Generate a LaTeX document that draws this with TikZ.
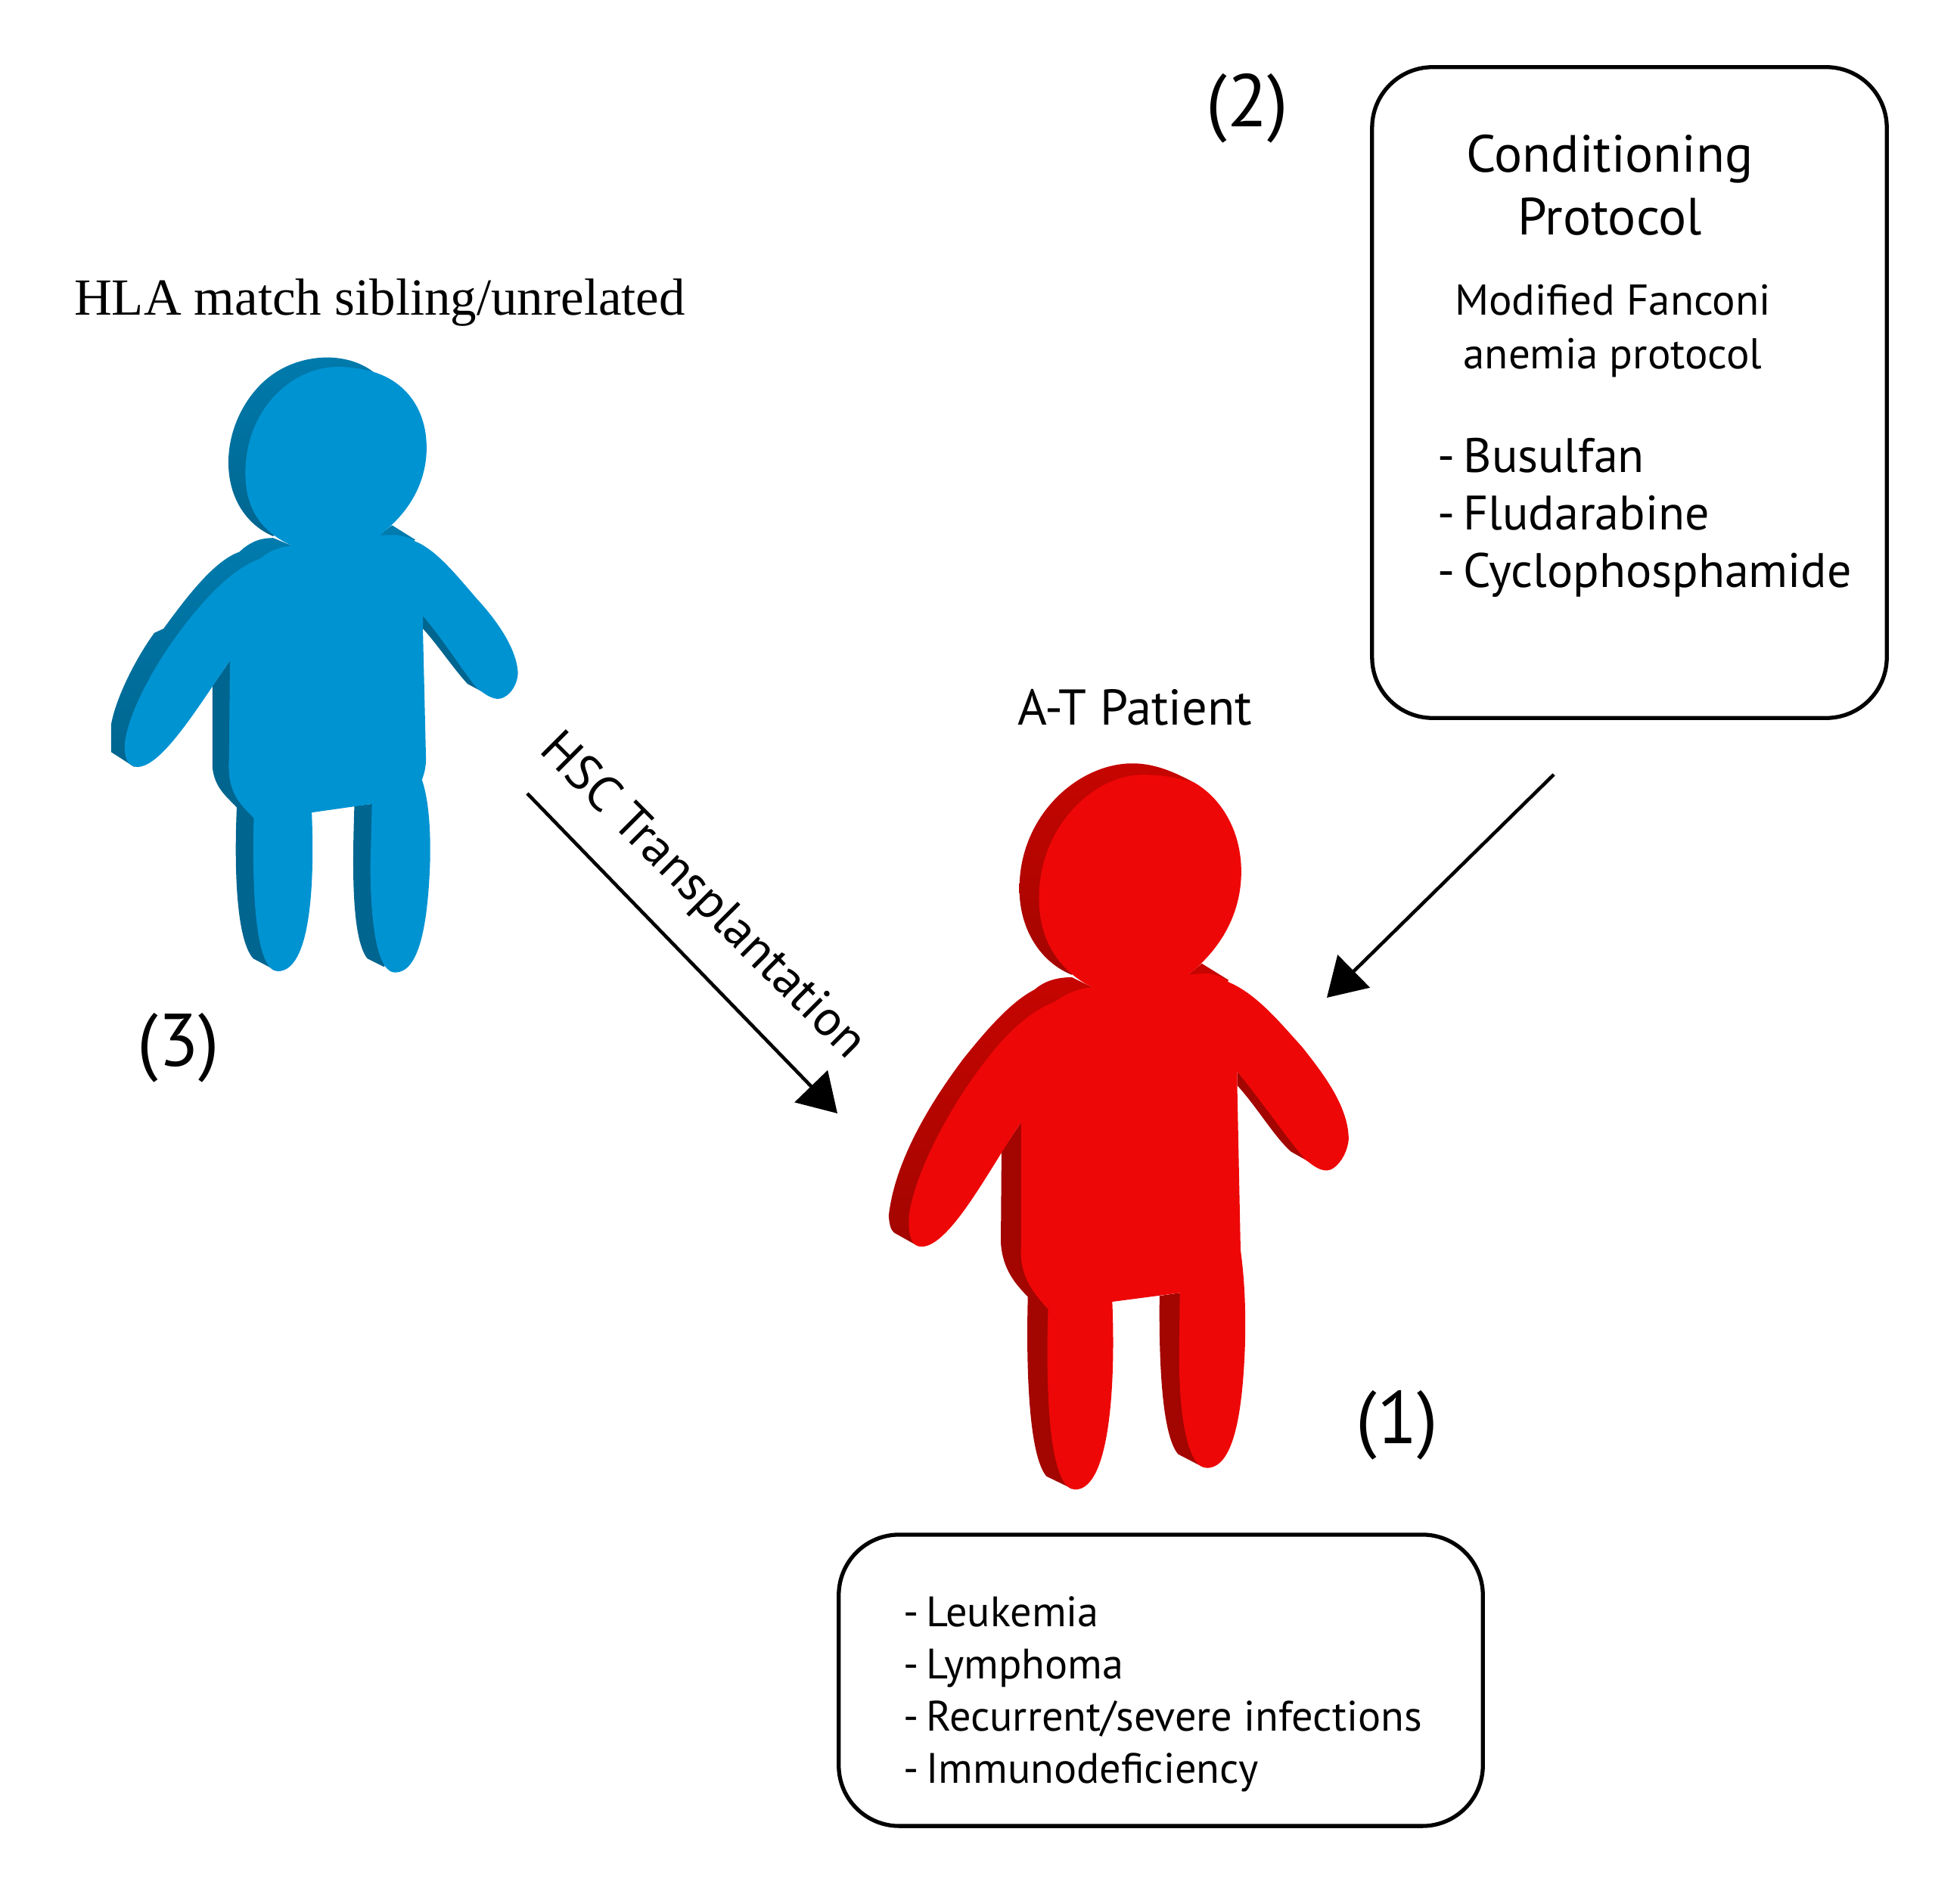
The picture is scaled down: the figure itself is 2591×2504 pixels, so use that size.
\documentclass[tikz,border=0pt]{standalone}
\usepackage{fontspec}
\setmainfont{PT Sans}
\newfontfamily\hlafont{Liberation Serif}
\usetikzlibrary{arrows.meta}
\definecolor{bluefront}{HTML}{0093D2}
\definecolor{blueback}{HTML}{00658F}
\definecolor{bluetop}{HTML}{007BAD}
\definecolor{redfront}{HTML}{EE0707}
\definecolor{redback}{HTML}{A30500}
\definecolor{redtop}{HTML}{C60500}
\newcommand{\dashitem}[1]{-\kern.17em #1}
\tikzset{
  infobox/.style={draw,line width=1.5pt,rounded corners=.8cm,inner sep=0pt},
  bigfig/.style={font=\fontsize{28}{34}\selectfont},
  hlatxt/.style={font=\hlafont\fontsize{19.6}{24}\selectfont},
  headtxt/.style={align=center,font=\fontsize{19.7}{23.6}\selectfont},
  midtxt/.style={align=center,font=\fontsize{16.2}{20.2}\selectfont},
  listtxt/.style={align=left,anchor=west,inner sep=0pt,font=\fontsize{18.2}{21.6}\selectfont},
  smalltxt/.style={align=left,anchor=west,inner sep=0pt,font=\fontsize{16}{19.6}\selectfont},
  plaintxt/.style={font=\fontsize{18.9}{22}\selectfont},
  toarrow/.style={line width=1.3pt,-{Triangle[length=.5cm,width=.6cm]}}
}
\begin{document}
\begin{tikzpicture}[x=.01cm,y=-.01cm]
\useasboundingbox (0,0) rectangle (2591,2504);
\begin{scope}[shift={(100,440)},xscale=.408,yscale=.5627]
\shade[top color=bluetop,bottom color=blueback] (640,478) .. controls (550,450) and (495,385) .. (495,305)
   .. controls (495,220) and (555,145) .. (625,105)
   .. controls (720,50) and (870,40) .. (965,92) -- (850,300) -- cycle;
\shade[top color=bluetop,bottom color=blueback] (700,500) -- (640,482) .. controls (590,482) and (560,495) .. (530,515)
   .. controls (450,535) and (360,620) .. (285,695) -- (255,705)
   .. controls (190,770) and (130,860) .. (115,920) -- (115,985) -- (190,1020) -- (400,700) -- cycle;
\fill[blueback] (500,770) -- (443,830) -- (443,1020) .. controls (450,1070) and (490,1090) .. (522,1115)
   .. controls (515,1230) and (515,1420) .. (575,1470) -- (640,1495) -- (650,1400) -- (650,1000) -- cycle;
\fill[blueback] (960,1107) -- (903,1112) .. controls (898,1230) and (890,1420) .. (945,1470) -- (1000,1490) -- (1030,1400) -- cycle;
\fill[bluetop] (985,475) -- (1025,452) -- (1100,486) -- (1050,520) -- cycle;
\fill[blueback] (1125,665) -- (1125,695) .. controls (1175,735) and (1225,790) .. (1270,825) -- (1340,852) -- (1250,750) -- cycle;
\fill[bluefront] (700,500) .. controls (610,470) and (550,420) .. (550,330)
   .. controls (550,180) and (700,80) .. (850,80)
   .. controls (890,80) and (930,85) .. (965,92)
   .. controls (1070,115) and (1137,180) .. (1137,270)
   .. controls (1137,340) and (1095,415) .. (985,475)
   -- (1040,475) .. controls (1060,478) and (1085,480) .. (1100,490)
   .. controls (1170,510) and (1240,575) .. (1300,625)
   .. controls (1370,680) and (1430,745) .. (1433,800)
   .. controls (1430,835) and (1395,862) .. (1365,860)
   .. controls (1340,858) and (1320,845) .. (1300,835)
   .. controls (1250,790) and (1190,720) .. (1125,665)
   -- (1125,695) -- (1135,1000) .. controls (1135,1020) and (1130,1035) .. (1122,1050)
   .. controls (1150,1110) and (1150,1200) .. (1148,1250)
   .. controls (1140,1400) and (1110,1503) .. (1035,1503)
   .. controls (980,1503) and (955,1400) .. (955,1250)
   -- (960,1107) -- (765,1127)
   .. controls (775,1300) and (760,1500) .. (655,1500)
   .. controls (590,1500) and (570,1350) .. (577,1140)
   .. controls (530,1105) and (490,1080) .. (497,1000)
   -- (500,770)
   .. controls (400,875) and (280,1020) .. (200,1020)
   .. controls (170,1020) and (155,1000) .. (160,960)
   .. controls (175,880) and (280,745) .. (400,645)
   .. controls (470,585) and (540,545) .. (600,530)
   .. controls (630,510) and (665,503) .. (700,500) -- cycle;
\end{scope}
\begin{scope}[shift={(1140,980)},xscale=.4464,yscale=.65]
\shade[top color=redtop,bottom color=redback] (620,475) .. controls (530,450) and (465,385) .. (465,300)
   .. controls (465,150) and (640,45) .. (800,45)
   .. controls (870,45) and (930,65) .. (985,85) -- (850,300) -- cycle;
\shade[top color=redtop,bottom color=redback] (680,500) -- (620,480) .. controls (570,480) and (535,490) .. (510,505)
   .. controls (440,530) and (370,585) .. (300,645)
   .. controls (190,745) and (95,860) .. (78,965)
   .. controls (80,985) and (85,995) .. (95,1000) -- (160,1025) -- (400,700) -- cycle;
\fill[redback] (470,775) -- (412,835) -- (410,1020) .. controls (415,1075) and (455,1105) .. (490,1130)
   .. controls (485,1260) and (490,1450) .. (545,1495) -- (620,1520) -- (640,1400) -- (640,1000) -- cycle;
\fill[redback] (940,1122) -- (880,1128) .. controls (878,1250) and (885,1410) .. (935,1450) -- (1005,1475) -- (1030,1400) -- cycle;
\fill[redtop] (965,475) -- (1005,452) -- (1085,486) -- (1030,520) -- cycle;
\fill[redback] (1110,672) -- (1110,700) .. controls (1170,745) and (1220,805) .. (1270,835) -- (1340,862) -- (1250,770) -- cycle;
\fill[redfront] (680,500) .. controls (590,470) and (523,410) .. (523,320)
   .. controls (523,170) and (690,68) .. (830,68)
   .. controls (890,68) and (940,75) .. (985,85)
   .. controls (1060,115) and (1122,180) .. (1122,265)
   .. controls (1122,340) and (1075,415) .. (965,475)
   -- (1020,472) .. controls (1050,475) and (1070,480) .. (1085,490)
   .. controls (1170,515) and (1240,575) .. (1300,620)
   .. controls (1370,680) and (1440,745) .. (1440,810)
   .. controls (1435,845) and (1400,873) .. (1375,873)
   .. controls (1350,873) and (1330,860) .. (1310,850)
   .. controls (1250,800) and (1180,730) .. (1110,672)
   -- (1110,700) -- (1120,1035)
   .. controls (1135,1110) and (1135,1180) .. (1133,1230)
   .. controls (1125,1380) and (1095,1478) .. (1020,1478)
   .. controls (965,1478) and (938,1380) .. (938,1250)
   -- (940,1122) -- (740,1140)
   .. controls (750,1300) and (735,1522) .. (630,1522)
   .. controls (565,1522) and (540,1380) .. (550,1155)
   .. controls (510,1125) and (465,1090) .. (470,1030)
   -- (470,775)
   .. controls (380,865) and (260,1028) .. (175,1028)
   .. controls (145,1028) and (135,1005) .. (138,965)
   .. controls (155,875) and (270,725) .. (400,620)
   .. controls (450,580) and (510,545) .. (570,530)
   .. controls (610,510) and (645,503) .. (680,500) -- cycle;
\end{scope}
\node[hlatxt] (donorlbl) at (502,400) {HLA match sibling/unrelated};
\node[bigfig] (three) at (236,1385) {(3)};
\node[bigfig] (two) at (1649,143) {(2)};
\node[bigfig] (one) at (1847,1884) {(1)};
\node[plaintxt] (patient) at (1500,935) {A-T Patient};
\node[infobox,minimum width=6.8cm,minimum height=8.6cm] (condbox) at (2154,519) {};
\node[headtxt] (condhead) at (2128,245) {Conditioning\\Protocol};
\node[midtxt] (condsub) at (2132,438) {Modified Fanconi\\anemia protocol};
\node[listtxt] (condlist) at (1900,684) {\dashitem{Busulfan}\\\dashitem{Fludarabine}\\\dashitem{Cyclophosphamide}};
\node[infobox,minimum width=8.51cm,minimum height=3.85cm] (riskbox) at (1534.5,2221.5) {};
\node[smalltxt] (risklist) at (1194,2240) {\dashitem{Leukemia}\\\dashitem{Lymphoma}\\\dashitem{Recurrent/severe infections}\\\dashitem{Immunodeficiency}};
\node[rotate=-45,plaintxt] (hsclbl) at (928,1186) {HSC Transplantation};
\coordinate (hscfrom) at (697,1049);
\coordinate (hscto) at (1107,1472);
\coordinate (condfrom) at (2054,1024);
\coordinate (condto) at (1754,1319);
\draw[toarrow] (hscfrom) -- (hscto);
\draw[toarrow] (condfrom) -- (condto);
\end{tikzpicture}
\end{document}
